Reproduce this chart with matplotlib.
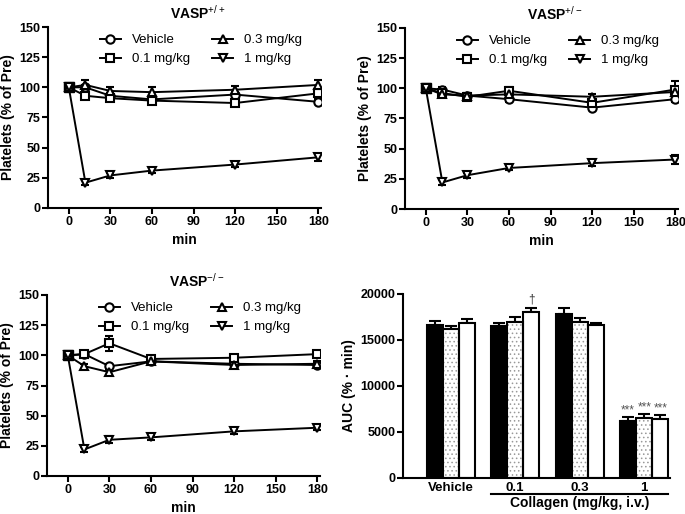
import matplotlib
matplotlib.use('Agg')
import matplotlib.pyplot as plt
import matplotlib.transforms as mtransforms
from matplotlib.lines import Line2D

plt.rcParams['font.family'] = ['Liberation Sans', 'DejaVu Sans']
plt.rcParams['mathtext.fontset'] = 'custom'
plt.rcParams['mathtext.rm'] = 'Liberation Sans'
plt.rcParams['mathtext.bf'] = 'Liberation Sans:bold'
plt.rcParams['hatch.linewidth'] = 0.6

# time course data (% of pre)
times = [0, 12, 30, 60, 120, 180]
doses = ['Vehicle', '0.1 mg/kg', '0.3 mg/kg', '1 mg/kg']
markers = ['o', 's', '^', 'v']

wt_vals = [[100, 100, 93, 90, 94, 88],
           [100, 93, 91, 89, 87, 95],
           [100, 102, 97, 96, 98, 102],
           [100, 21, 27, 31, 36, 42]]
wt_err = [[0, 2, 2, 2, 2, 2],
          [0, 2, 2, 2, 2, 2],
          [0, 4, 3, 4, 3, 4],
          [0, 2, 2, 2, 2, 3]]

het_vals = [[100, 99, 94, 91, 84, 91],
            [100, 96, 93, 98, 88, 99],
            [100, 95, 94, 95, 93, 97],
            [100, 22, 28, 34, 38, 41]]
het_err = [[0, 2, 2, 2, 2, 2],
           [0, 3, 2, 3, 2, 7],
           [0, 2, 2, 2, 2, 3],
           [0, 2, 2, 2, 2, 4]]

ko_vals = [[100, 101, 91, 95, 93, 92],
           [100, 101, 110, 97, 98, 101],
           [100, 91, 86, 95, 92, 93],
           [100, 22, 30, 32, 37, 40]]
ko_err = [[0, 2, 2, 2, 2, 2],
          [0, 2, 6, 2, 2, 2],
          [0, 2, 2, 2, 2, 2],
          [0, 2, 3, 2, 2, 2]]

# AUC data
groups = ['Vehicle', '0.1', '0.3', '1']
auc_wt = [16650, 16500, 17800, 6250]
auc_wt_err = [400, 400, 700, 350]
auc_het = [16200, 17000, 17000, 6550]
auc_het_err = [300, 450, 400, 400]
auc_ko = [16850, 18000, 16600, 6400]
auc_ko_err = [450, 450, 200, 400]

W, H = 685, 514
fig = plt.figure(figsize=(6.85, 5.14), dpi=100)


def px_axes(l, r, t, b):
    return fig.add_axes([l / W, (H - b) / H, (r - l) / W, (b - t) / H])


def style_axes(ax):
    for s in ['top', 'right']:
        ax.spines[s].set_visible(False)
    for s in ['left', 'bottom']:
        ax.spines[s].set_linewidth(1.5)
    ax.tick_params(direction='out', width=1.5, length=4, labelsize=9, pad=1.5)
    for lab in ax.get_xticklabels() + ax.get_yticklabels():
        lab.set_fontweight('bold')


def time_panel(ax, vals, errs, title):
    for i in range(4):
        ax.errorbar(times, vals[i], yerr=errs[i], color='black', lw=1.4,
                    marker=markers[i], ms=6, mfc='white', mec='black', mew=1.5,
                    capsize=3, elinewidth=1.4, capthick=1.4)
    # baseline point drawn filled
    ax.plot([0], [100], marker='s', ms=7, color='black', ls='none')
    ax.set_xlim(-15, 182)
    ax.set_ylim(0, 150)
    ax.set_xticks([0, 30, 60, 90, 120, 150, 180])
    ax.set_yticks([0, 25, 50, 75, 100, 125, 150])
    ax.set_xlabel('min', fontweight='bold', fontsize=10, labelpad=4)
    ax.set_ylabel('Platelets (% of Pre)', fontweight='bold', fontsize=10, labelpad=3)
    style_axes(ax)
    handles = [Line2D([], [], color='black', lw=1.4, marker=m, ms=6, mfc='white',
                      mec='black', mew=1.5) for m in markers]
    ax.legend(handles, doses, ncol=2, frameon=False, loc='upper left',
              bbox_to_anchor=(0.19, 0.96), borderaxespad=0, borderpad=0,
              fontsize=9.5, handlelength=1.6, handletextpad=0.8,
              columnspacing=1.7, labelspacing=0.5)
    ax.set_title(title, fontweight='bold', fontsize=10, pad=6, x=0.55)


ax1 = px_axes(48, 321, 27, 208)
time_panel(ax1, wt_vals, wt_err, r'VASP$^{+/+}$')
ax2 = px_axes(405, 678, 28, 209)
time_panel(ax2, het_vals, het_err, r'VASP$^{+/-}$')
ax3 = px_axes(47, 320, 295, 476)
time_panel(ax3, ko_vals, ko_err, r'VASP$^{-/-}$')

# AUC bars
ax4 = px_axes(403, 670, 294, 478)
bw = 0.25
xs = list(range(len(groups)))
x_wt = [x - bw for x in xs]
x_het = xs
x_ko = [x + bw for x in xs]
ax4.bar(x_wt, auc_wt, bw, color='black', edgecolor='black', lw=1.5, zorder=2)
ax4.bar(x_het, auc_het, bw, color='white', edgecolor='#999999', hatch='....', lw=0, zorder=2)
ax4.bar(x_het, auc_het, bw, color='none', edgecolor='black', lw=1.5, zorder=3)
ax4.bar(x_ko, auc_ko, bw, color='white', edgecolor='black', lw=1.5, zorder=2)
for xx, yy, ee in [(x_wt, auc_wt, auc_wt_err), (x_het, auc_het, auc_het_err),
                   (x_ko, auc_ko, auc_ko_err)]:
    ax4.errorbar(xx, yy, yerr=[[0] * len(yy), ee], fmt='none', ecolor='black',
                 elinewidth=1.5, capsize=4, capthick=1.5, zorder=1)
for xx, yy, ee in [(x_wt[3], auc_wt[3], auc_wt_err[3]),
                   (x_het[3], auc_het[3], auc_het_err[3]),
                   (x_ko[3], auc_ko[3], auc_ko_err[3])]:
    ax4.text(xx, yy + ee + 100, '***', ha='center', va='bottom', fontsize=8.5, color='#555555')
ax4.text(x_ko[1], auc_ko[1] + auc_ko_err[1] + 250, '\u2020', ha='center', va='bottom',
         fontsize=8.5, color='#333333')
ax4.set_xlim(-0.74, 3.4)
ax4.set_ylim(0, 20000)
ax4.set_yticks([0, 5000, 10000, 15000, 20000])
ax4.set_xticks(xs)
ax4.set_xticklabels(groups)
ax4.set_ylabel('AUC (% \u00b7 min)', fontweight='bold', fontsize=10, labelpad=3)
style_axes(ax4)
ax4.tick_params(axis='x', length=0, pad=3, labelsize=9.5)

trans = mtransforms.blended_transform_factory(ax4.transData, ax4.transAxes)
ax4.plot([x_wt[1] - bw / 2, x_ko[3] + bw / 2], [-0.088, -0.088], color='black', lw=1.5,
         transform=trans, clip_on=False)
ax4.text((x_wt[1] + x_ko[3]) / 2, -0.1, 'Collagen (mg/kg, i.v.)', transform=trans,
         ha='center', va='top', fontweight='bold', fontsize=10)

fig.savefig('out.png', dpi=100)
